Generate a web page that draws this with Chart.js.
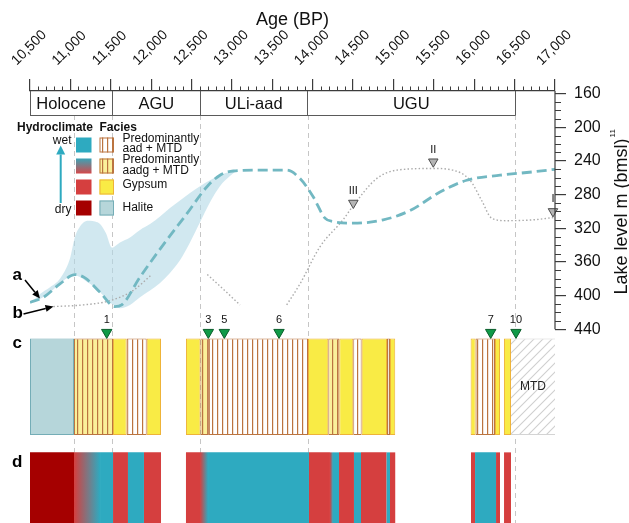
<!DOCTYPE html>
<html>
<head>
<meta charset="utf-8">
<script src="https://cdn.jsdelivr.net/npm/chart.js@4/dist/chart.umd.min.js"></script>
<style>
html,body{margin:0;padding:0;background:#fff;}
canvas{display:block;}
</style>
</head>
<body>
<canvas id="chart" width="629" height="523"></canvas>
<script>
// ================= DATA =================
const AGE_TICKS = [10500, 11000, 11500, 12000, 12500, 13000, 13500, 14000, 14500, 15000, 15500, 16000, 16500, 17000];
const LEVEL_TICKS = [160, 200, 240, 280, 320, 360, 400, 440];

const UNIT_NAMES  = ['Holocene', 'AGU', 'ULi-aad', 'UGU'];
const UNIT_BOUNDS = [10500, 11520, 12610, 13930, 16510];
const DASHED_AGES = [11045, 11520, 12610, 13940, 16510];

// (a) lake level curve
const LAKE_A_AGE   = [10500, 10665, 10871, 11057, 11181, 11367, 11552, 11635, 11862, 12193, 12440, 12688, 12852, 13017, 13346, 13678, 13843, 14008, 14152, 14255, 14503, 14874, 15205, 15576, 15907, 16321, 16731, 17000];
const LAKE_A_LEVEL = [408, 402, 386, 375, 379, 396, 413, 411, 378, 334, 303, 271, 257, 252, 251, 251, 261, 283, 308, 312, 314, 310, 299, 277, 263, 257, 253, 250];

// (b) lake level curve (null = gap)
const LAKE_B_AGE   = [10789, 11160, 11490, 11775, 12007, 12350, 12695, 12900, 13100, 13400, 13678, 13843, 14090, 14375, 14503, 14792, 15040, 15490, 15737, 15948, 16092, 16216, 16402, 16728, 17000];
const LAKE_B_LEVEL = [413, 411, 406, 394, 375, null, 375, 393, 411, null, 411, 386, 342, 310, 293, 261, 251, 249, 251, 263, 287, 308, 311, 310, 307];

// uncertainty envelope of (a)
const ENV_AGE   = [10537, 10624, 10748, 10871, 10995, 11057, 11119, 11181, 11243, 11305, 11367, 11441, 11515, 11614, 11738, 11862, 11986, 12110, 12233, 12357, 12481, 12605, 12729, 12852, 12976, 13050];
const ENV_UPPER = [406, 398, 390, 380, 356, 330, 318, 312, 311, 312, 315, 326, 343, 337, 331, 322, 315, 306, 296, 287, 278, 270, 263, 257, 253, 252];
const ENV_LOWER = [407, 404, 396, 386, 377, 376, 378, 382, 386, 391, 396, 403, 410, 415, 411, 402, 394, 385, 373, 358, 337, 313, 289, 270, 258, 252];

// grey lake-level markers
const LEVEL_MARK_AGE   = [14503, 15493, 16975];
const LEVEL_MARK_LEVEL = [290, 241, 300];
const LEVEL_MARK_LABEL = ['III', 'II', 'I'];

// green sample markers
const SAMPLE_AGE   = [11450, 12708, 12906, 13583, 16204, 16517];
const SAMPLE_LABEL = ['1', '3', '5', '6', '7', '10'];

// (c) facies intervals [start, end] in years BP
const FACIES_HALITE = [[10500, 11045]];
const FACIES_AADG   = [[11045, 11528], [12610, 12715], [14193, 14329]];
const FACIES_AAD    = [[11697, 11945], [12715, 13942], [14502, 14606], [14920, 14957], [16018, 16257]];
const FACIES_GYPSUM = [[11528, 11697], [11945, 12122], [12431, 12610], [13942, 14193], [14329, 14502], [14606, 14920], [14957, 15022], [15955, 16018], [16257, 16319], [16368, 16455]];
const FACIES_MTD    = [[16455, 17000]];

// (d) hydroclimate intervals
const HYDRO_HALITE = [[10500, 11045]];
const HYDRO_TRANS  = [[11045, 11367], [12605, 12704], [14214, 14251]];
const HYDRO_WET    = [[11367, 11528], [11713, 11911], [12704, 13954], [14251, 14326], [14511, 14598], [14915, 14957], [16010, 16270]];
const HYDRO_DRY    = [[11528, 11713], [11911, 12122], [12431, 12605], [13954, 14214], [14326, 14511], [14598, 14915], [14957, 15022], [15960, 16010], [16270, 16319], [16369, 16455]];

// ================= STYLE / LAYOUT =================
const FONT = "'Liberation Sans', Arial, Helvetica, sans-serif";
Chart.defaults.font.family = FONT;
const C = {
  wet: '#2eaac0', dry: '#d53f3f', halDry: '#a50000',
  gyp: '#f9eb45', gypLine: '#eeb339', hal: '#b6d6da', halLine: '#74adb6',
  brown: '#bb7440', aadgBg: '#fbf09a', lakeA: '#72b8c2', lakeB: '#ababab',
  env: 'rgba(178,217,230,0.6)', axis: '#3c3c3c', text: '#111'
};
const LAYOUT = { top: 91, left: 30, rightAxis: 74, unitBoxH: 24 };
const ROW = { min: -2.56, max: 1.91, c: 0.5, d: 1.679, fraction: 0.848, markY: -0.062 };

function makePattern(w, h, draw) {
  const cv = document.createElement('canvas'); cv.width = w; cv.height = h;
  const g = cv.getContext('2d'); draw(g, w, h);
  return g.createPattern(cv, 'repeat');
}
const AAD_FILL = makePattern(5, 8, (g, w, h) => { g.fillStyle = '#fff'; g.fillRect(0, 0, w, h); g.fillStyle = C.brown; g.fillRect(2, 0, 1.2, h); });
const AADG_FILL = makePattern(5, 8, (g, w, h) => { g.fillStyle = C.aadgBg; g.fillRect(0, 0, w, h); g.fillStyle = C.brown; g.fillRect(2, 0, 1.2, h); });
const MTD_FILL = makePattern(9, 9, (g, w, h) => {
  g.fillStyle = '#fff'; g.fillRect(0, 0, w, h);
  g.strokeStyle = '#cfcfcf'; g.lineWidth = 1.1; g.beginPath();
  g.moveTo(0, h); g.lineTo(w, 0); g.moveTo(-2, 2); g.lineTo(2, -2); g.moveTo(w - 2, h + 2); g.lineTo(w + 2, h - 2); g.stroke();
});

const pts = (xs, ys) => xs.map((x, i) => ({ x, y: ys[i] }));
function rowBars(label, list, row, style) {
  return Object.assign({
    type: 'bar', label, indexAxis: 'y', xAxisID: 'x', yAxisID: 'yRow',
    data: list.map(s => ({ x: [s[0], s[1]], y: row })),
    grouped: false, categoryPercentage: 1, barPercentage: ROW.fraction,
    borderSkipped: false, borderWidth: 0, order: 10
  }, style);
}
function transitionFill(c) {
  const xs = c.chart.scales && c.chart.scales.x;
  if (!c.raw || !xs) return C.dry;
  const p0 = xs.getPixelForValue(c.raw.x[0]), p1 = xs.getPixelForValue(c.raw.x[1]);
  if (!isFinite(p0) || !isFinite(p1)) return C.dry;
  const g = c.chart.ctx.createLinearGradient(p0, 0, p1, 0);
  g.addColorStop(0, C.dry); g.addColorStop(1, C.wet);
  return g;
}

const datasets = [
  { label: 'envelope', data: pts(ENV_AGE, ENV_UPPER), fill: '+1', backgroundColor: C.env, borderColor: 'rgba(0,0,0,0)', borderWidth: 0, pointRadius: 0, cubicInterpolationMode: 'monotone', order: 30 },
  { label: 'envelope-low', data: pts(ENV_AGE, ENV_LOWER), fill: false, borderColor: 'rgba(0,0,0,0)', borderWidth: 0, pointRadius: 0, cubicInterpolationMode: 'monotone', order: 31 },
  { label: 'b', data: pts(LAKE_B_AGE, LAKE_B_LEVEL), borderColor: C.lakeB, borderWidth: 1.4, borderDash: [1.5, 2.2], pointRadius: 0, cubicInterpolationMode: 'monotone', spanGaps: false, fill: false, order: 20 },
  { label: 'a', data: pts(LAKE_A_AGE, LAKE_A_LEVEL), borderColor: C.lakeA, borderWidth: 2.8, borderDash: [10, 5], pointRadius: 0, cubicInterpolationMode: 'monotone', fill: false, order: 19 },
  rowBars('Halite', FACIES_HALITE, ROW.c, { backgroundColor: C.hal, borderColor: C.halLine, borderWidth: 1 }),
  rowBars('aadg', FACIES_AADG, ROW.c, { backgroundColor: AADG_FILL, borderColor: C.brown, borderWidth: 1 }),
  rowBars('aad', FACIES_AAD, ROW.c, { backgroundColor: AAD_FILL, borderColor: C.brown, borderWidth: 1 }),
  rowBars('Gypsum', FACIES_GYPSUM, ROW.c, { backgroundColor: C.gyp, borderColor: C.gypLine, borderWidth: 1 }),
  rowBars('MTD', FACIES_MTD, ROW.c, { backgroundColor: MTD_FILL, borderColor: '#d4d4d4', borderWidth: { top: 1, bottom: 1, left: 0, right: 0 } }),
  rowBars('dry-halite', HYDRO_HALITE, ROW.d, { backgroundColor: C.halDry }),
  rowBars('transition', HYDRO_TRANS, ROW.d, { backgroundColor: transitionFill }),
  rowBars('wet', HYDRO_WET, ROW.d, { backgroundColor: C.wet }),
  rowBars('dry', HYDRO_DRY, ROW.d, { backgroundColor: C.dry }),
  { type: 'scatter', label: 'levelMarks', data: pts(LEVEL_MARK_AGE, LEVEL_MARK_LEVEL), xAxisID: 'x', yAxisID: 'y', pointStyle: 'triangle', pointRotation: 180, pointRadius: 5.5, pointBackgroundColor: '#b5b5b5', pointBorderColor: '#4d4d4d', pointBorderWidth: 1, clip: false, order: 2 },
  { type: 'scatter', label: 'samples', data: SAMPLE_AGE.map(a => ({ x: a, y: ROW.markY })), xAxisID: 'x', yAxisID: 'yRow', pointStyle: 'triangle', pointRotation: 180, pointRadius: 6, pointBackgroundColor: '#0f9a47', pointBorderColor: '#0a5e2b', pointBorderWidth: 1, clip: false, order: 1 }
];
const idxOf = l => datasets.findIndex(d => d.label === l);

function arrow(ctx, x1, y1, x2, y2, color, lw, head, half) {
  const ang = Math.atan2(y2 - y1, x2 - x1);
  const bx = x2 - Math.cos(ang) * head, by = y2 - Math.sin(ang) * head;
  ctx.strokeStyle = color; ctx.fillStyle = color; ctx.lineWidth = lw;
  ctx.beginPath(); ctx.moveTo(x1, y1); ctx.lineTo(bx, by); ctx.stroke();
  ctx.beginPath(); ctx.moveTo(x2, y2);
  ctx.lineTo(bx + Math.sin(ang) * half, by - Math.cos(ang) * half);
  ctx.lineTo(bx - Math.sin(ang) * half, by + Math.cos(ang) * half);
  ctx.closePath(); ctx.fill();
}

const overlay = {
  id: 'overlay',
  beforeDatasetsDraw(chart) {
    const { ctx, chartArea: ca, scales: { x } } = chart;
    ctx.save();
    ctx.strokeStyle = '#c6c6c6'; ctx.lineWidth = 1; ctx.setLineDash([5, 4]);
    for (const a of DASHED_AGES) {
      const px = Math.round(x.getPixelForValue(a)) + 0.5;
      ctx.beginPath(); ctx.moveTo(px, ca.top + LAYOUT.unitBoxH); ctx.lineTo(px, chart.height); ctx.stroke();
    }
    ctx.restore();
  },
  afterDatasetsDraw(chart) {
    const { ctx } = chart;
    ctx.save();
    ctx.fillStyle = C.text; ctx.textAlign = 'center'; ctx.textBaseline = 'middle';
    ctx.font = `11px ${FONT}`;
    chart.getDatasetMeta(idxOf('levelMarks')).data.forEach((el, i) => ctx.fillText(LEVEL_MARK_LABEL[i], el.x, el.y - 12));
    chart.getDatasetMeta(idxOf('samples')).data.forEach((el, i) => ctx.fillText(SAMPLE_LABEL[i], el.x, el.y - 12.5));
    ctx.font = `12px ${FONT}`; ctx.fillStyle = '#222';
    chart.getDatasetMeta(idxOf('MTD')).data.forEach(el => ctx.fillText('MTD', (el.x + el.base) / 2, el.y));
    ctx.restore();
  },
  afterDraw(chart) {
    const { ctx, chartArea: ca, scales: { x, y, yRow } } = chart;
    ctx.save();
    // minor ticks
    ctx.strokeStyle = C.axis; ctx.lineWidth = 1; ctx.beginPath();
    for (let a = AGE_TICKS[0] + 100; a < AGE_TICKS[AGE_TICKS.length - 1]; a += 100) {
      if (a % 500 === 0) continue;
      const px = Math.round(x.getPixelForValue(a)) + 0.5;
      ctx.moveTo(px, ca.top); ctx.lineTo(px, ca.top - 4.5);
    }
    for (let v = LEVEL_TICKS[0] + 10; v < LEVEL_TICKS[LEVEL_TICKS.length - 1]; v += 10) {
      if (v % 40 === 0) continue;
      const py = Math.round(y.getPixelForValue(v)) + 0.5;
      ctx.moveTo(ca.right, py); ctx.lineTo(ca.right + 6, py);
    }
    ctx.stroke();
    // right axis line
    ctx.lineWidth = 1.2; ctx.beginPath();
    ctx.moveTo(ca.right, ca.top); ctx.lineTo(ca.right, y.getPixelForValue(LEVEL_TICKS[LEVEL_TICKS.length - 1])); ctx.stroke();
    // right axis title
    ctx.save();
    const midY = (y.getPixelForValue(160) + y.getPixelForValue(440)) / 2 + 5;
    ctx.translate(622, midY); ctx.rotate(-Math.PI / 2);
    ctx.fillStyle = C.text; ctx.font = `18px ${FONT}`; ctx.textAlign = 'center'; ctx.textBaseline = 'middle';
    const ttl = 'Lake level m (bmsl)';
    ctx.fillText(ttl, 0, 0);
    const tw = ctx.measureText(ttl).width;
    ctx.font = `8px ${FONT}`; ctx.textAlign = 'left';
    ctx.fillText('11', tw / 2 + 1, -9);
    ctx.restore();

    // stratigraphic unit box
    const bTop = ca.top, bBot = Math.round(ca.top + LAYOUT.unitBoxH) + 0.5;
    ctx.strokeStyle = '#5a5a5a'; ctx.lineWidth = 1; ctx.beginPath();
    const ux0 = x.getPixelForValue(UNIT_BOUNDS[0]), ux1 = x.getPixelForValue(UNIT_BOUNDS[UNIT_BOUNDS.length - 1]);
    ctx.moveTo(ux0, bBot); ctx.lineTo(ux1, bBot);
    UNIT_BOUNDS.forEach(b => { const px = Math.round(x.getPixelForValue(b)) + 0.5; ctx.moveTo(px, bTop); ctx.lineTo(px, bBot); });
    ctx.stroke();
    ctx.fillStyle = C.text; ctx.font = `16.5px ${FONT}`; ctx.textAlign = 'center'; ctx.textBaseline = 'middle';
    UNIT_NAMES.forEach((n, i) => {
      const cx = (x.getPixelForValue(UNIT_BOUNDS[i]) + x.getPixelForValue(UNIT_BOUNDS[i + 1])) / 2;
      ctx.fillText(n, cx, (bTop + bBot) / 2 + 1);
    });

    // panel letters + arrows
    ctx.font = `bold 17px ${FONT}`; ctx.textAlign = 'left'; ctx.textBaseline = 'alphabetic'; ctx.fillStyle = '#000';
    ctx.fillText('a', 12.5, 279.5);
    ctx.fillText('b', 12.5, 317.5);
    const rowCTop = yRow.getPixelForValue(ROW.c - 0.5), rowDTop = yRow.getPixelForValue(ROW.d - 0.5);
    ctx.fillText('c', 12.5, rowCTop + 10);
    ctx.fillText('d', 12, rowDTop + 14.5);
    arrow(ctx, 25, 280, 40, 298.5, '#000', 1.5, 8, 3.5);
    arrow(ctx, 23.5, 314, 53.5, 306.5, '#000', 1.5, 8, 3.5);

    // legend
    ctx.fillStyle = C.text; ctx.font = `bold 12px ${FONT}`; ctx.textBaseline = 'middle'; ctx.textAlign = 'left';
    ctx.fillText('Hydroclimate', 17, 127.5);
    ctx.fillText('Facies', 99.5, 127.5);
    ctx.font = `12px ${FONT}`; ctx.textAlign = 'right';
    ctx.fillText('wet', 71.5, 141);
    ctx.fillText('dry', 71.5, 209.5);
    arrow(ctx, 60.7, 203, 60.7, 145.5, C.wet, 2, 9, 4.5);
    const rowsY = [137.5, 158.5, 179.5, 200.5], sh = 15;
    const hx = 76, hw = 15.5, fx = 99.5, fw = 14.5;
    const grad = ctx.createLinearGradient(0, rowsY[1], 0, rowsY[1] + sh);
    grad.addColorStop(0, '#3aa3b6'); grad.addColorStop(1, '#d4484a');
    [C.wet, grad, C.dry, C.halDry].forEach((f, i) => { ctx.fillStyle = f; ctx.fillRect(hx, rowsY[i], hw, sh); });
    const facSw = [[AAD_FILL, C.brown], [AADG_FILL, C.brown], [C.gyp, C.gypLine], [C.hal, C.halLine]];
    ctx.lineWidth = 1;
    facSw.forEach(([f, s], i) => {
      ctx.fillStyle = f; ctx.fillRect(fx, rowsY[i], fw, sh);
      ctx.strokeStyle = s; ctx.strokeRect(fx + 0.5, rowsY[i] + 0.5, fw - 1, sh - 1);
    });
    ctx.fillStyle = C.text; ctx.font = `12px ${FONT}`; ctx.textAlign = 'left';
    ctx.fillText('Predominantly', 122.5, 138.5);
    ctx.fillText('aad + MTD', 122.5, 149);
    ctx.fillText('Predominantly', 122.5, 160);
    ctx.fillText('aadg + MTD', 122.5, 170.5);
    ctx.fillText('Gypsum', 122.5, 185);
    ctx.fillText('Halite', 122.5, 208);
    ctx.restore();
  }
};

new Chart(document.getElementById('chart'), {
  type: 'line',
  data: { datasets },
  plugins: [overlay],
  options: {
    responsive: false, animation: false, devicePixelRatio: 1, events: [],
    layout: { autoPadding: false, padding: { left: LAYOUT.left, top: 0, right: 0, bottom: 0 } },
    plugins: { legend: { display: false }, tooltip: { enabled: false }, title: { display: false } },
    scales: {
      x: {
        type: 'linear', position: 'top', min: AGE_TICKS[0], max: AGE_TICKS[AGE_TICKS.length - 1], offset: false, beginAtZero: false,
        afterBuildTicks: s => { s.ticks = AGE_TICKS.map(v => ({ value: v })); },
        afterFit: s => { s.height = LAYOUT.top; },
        ticks: { autoSkip: false, minRotation: 45, maxRotation: 45, labelOffset: -4, padding: 10, color: C.text, font: { size: 14 },
          callback: v => Number(v).toLocaleString('en-US') },
        grid: { drawOnChartArea: false, drawTicks: true, tickLength: 12, color: C.axis, lineWidth: 1.2 },
        border: { display: true, color: C.axis, width: 1.2 },
        title: { display: true, text: 'Age (BP)', color: C.text, font: { size: 18 }, padding: { top: 9, bottom: 0 } }
      },
      y: {
        type: 'linear', position: 'right', reverse: true, min: 157, max: 670,
        afterBuildTicks: s => { s.ticks = LEVEL_TICKS.map(v => ({ value: v })); },
        afterFit: s => { s.width = LAYOUT.rightAxis; s.paddingTop = 0; s.paddingBottom = 0; },
        ticks: { color: C.text, font: { size: 16 }, padding: 8 },
        grid: { drawOnChartArea: false, drawTicks: true, tickLength: 11, color: C.axis, lineWidth: 1.2 },
        border: { display: false }
      },
      yRow: {
        type: 'linear', display: false, reverse: true, min: ROW.min, max: ROW.max, offset: false,
        afterBuildTicks: s => { s.ticks = []; }
      }
    }
  }
});
</script>
</body>
</html>
